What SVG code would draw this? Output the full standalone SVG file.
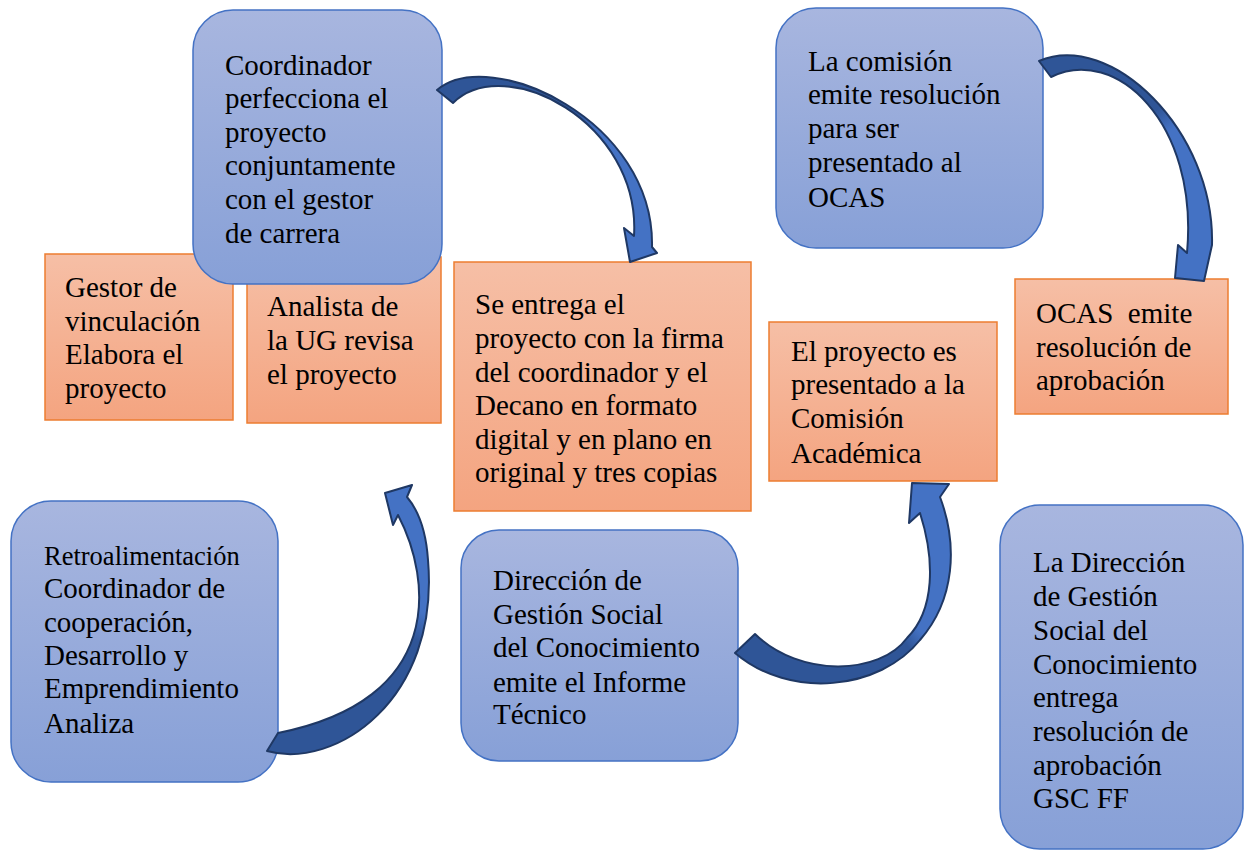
<svg xmlns="http://www.w3.org/2000/svg" width="1245" height="852" viewBox="0 0 1245 852">
<defs>
<linearGradient id="gBlue" x1="0" y1="0" x2="0" y2="1">
<stop offset="0" stop-color="#A8B6DF"/>
<stop offset="1" stop-color="#87A0D7"/>
</linearGradient>
<linearGradient id="gOrange" x1="0" y1="0" x2="0" y2="1">
<stop offset="0" stop-color="#F6BFA6"/>
<stop offset="1" stop-color="#F4A480"/>
</linearGradient>
<linearGradient id="a1" gradientUnits="userSpaceOnUse" x1="445" y1="97" x2="640" y2="255">
<stop offset="0" stop-color="#2F5597"/><stop offset="0.45" stop-color="#2F5597"/><stop offset="0.55" stop-color="#4472C4"/><stop offset="1" stop-color="#4472C4"/>
</linearGradient>
<linearGradient id="a2" gradientUnits="userSpaceOnUse" x1="1045" y1="69" x2="1190" y2="278">
<stop offset="0" stop-color="#2F5597"/><stop offset="0.38" stop-color="#2F5597"/><stop offset="0.48" stop-color="#4472C4"/><stop offset="1" stop-color="#4472C4"/>
</linearGradient>
<linearGradient id="a3" gradientUnits="userSpaceOnUse" x1="272" y1="742" x2="398" y2="490">
<stop offset="0" stop-color="#2F5597"/><stop offset="0.55" stop-color="#2F5597"/><stop offset="0.65" stop-color="#4472C4"/><stop offset="1" stop-color="#4472C4"/>
</linearGradient>
<linearGradient id="a4" gradientUnits="userSpaceOnUse" x1="745" y1="643" x2="930" y2="485">
<stop offset="0" stop-color="#2F5597"/><stop offset="0.5" stop-color="#2F5597"/><stop offset="0.58" stop-color="#4472C4"/><stop offset="1" stop-color="#4472C4"/>
</linearGradient>
<style>
.blue{fill:url(#gBlue);stroke:#4472C4;stroke-width:1.5}
.orange{fill:url(#gOrange);stroke:#ED7D31;stroke-width:1.5}
.t{font-family:"Liberation Serif","Times New Roman",serif;font-size:29px;fill:#000;white-space:pre}
.arrow{stroke:#1F3864;stroke-width:2;stroke-linejoin:round}
</style>
</defs>
<rect width="1245" height="852" fill="#FFFFFF"/>

<g id="gestor">
<rect class="orange" x="45" y="254" width="188" height="166"/>
<text class="t"><tspan x="65" y="297">Gestor de</tspan><tspan x="65" y="331">vinculación</tspan><tspan x="65" y="364">Elabora el</tspan><tspan x="65" y="398">proyecto</tspan></text>
</g>

<g id="analista">
<rect class="orange" x="247" y="257" width="194" height="166"/>
<text class="t"><tspan x="267" y="316">Analista de</tspan><tspan x="267" y="350">la UG revisa</tspan><tspan x="267" y="384">el proyecto</tspan></text>
</g>

<g id="coordinador">
<rect class="blue" x="193" y="10" width="249" height="274" rx="40" ry="40"/>
<text class="t"><tspan x="225" y="75">Coordinador</tspan><tspan x="225" y="108">perfecciona el</tspan><tspan x="225" y="142">proyecto</tspan><tspan x="225" y="175">conjuntamente</tspan><tspan x="225" y="209">con el gestor</tspan><tspan x="225" y="243">de carrera</tspan></text>
</g>

<g id="entrega">
<rect class="orange" x="454" y="262" width="297" height="249"/>
<text class="t"><tspan x="475" y="314">Se entrega el</tspan><tspan x="475" y="348">proyecto con la firma</tspan><tspan x="475" y="382">del coordinador y el</tspan><tspan x="475" y="415">Decano en formato</tspan><tspan x="475" y="449">digital y en plano en</tspan><tspan x="475" y="482">original y tres copias</tspan></text>
</g>

<g id="presentado">
<rect class="orange" x="769" y="322" width="228" height="159"/>
<text class="t"><tspan x="791" y="361">El proyecto es</tspan><tspan x="791" y="394">presentado a la</tspan><tspan x="791" y="428">Comisión</tspan><tspan x="791" y="463">Académica</tspan></text>
</g>

<g id="comision">
<rect class="blue" x="776" y="8" width="267" height="240" rx="40" ry="40"/>
<text class="t"><tspan x="808" y="71">La comisión</tspan><tspan x="808" y="104">emite resolución</tspan><tspan x="808" y="138">para ser</tspan><tspan x="808" y="172">presentado al</tspan><tspan x="808" y="207">OCAS</tspan></text>
</g>

<g id="ocas">
<rect class="orange" x="1015" y="279" width="213" height="135"/>
<text class="t"><tspan x="1036" y="323">OCAS  emite</tspan><tspan x="1036" y="357">resolución de</tspan><tspan x="1036" y="390">aprobación</tspan></text>
</g>

<g id="retro">
<rect class="blue" x="11" y="501" width="267" height="281" rx="40" ry="40"/>
<text class="t"><tspan x="44" y="565" style="font-size:26.5px">Retroalimentación</tspan><tspan x="44" y="598">Coordinador de</tspan><tspan x="44" y="632">cooperación,</tspan><tspan x="44" y="665">Desarrollo y</tspan><tspan x="44" y="698">Emprendimiento</tspan><tspan x="44" y="733">Analiza</tspan></text>
</g>

<g id="direccion">
<rect class="blue" x="461" y="530" width="277" height="231" rx="38" ry="38"/>
<text class="t"><tspan x="493" y="590">Dirección de</tspan><tspan x="493" y="624">Gestión Social</tspan><tspan x="493" y="657">del Conocimiento</tspan><tspan x="493" y="692">emite el Informe</tspan><tspan x="493" y="724">Técnico</tspan></text>
</g>

<g id="ladireccion">
<rect class="blue" x="1000" y="505" width="243" height="344" rx="40" ry="40"/>
<text class="t"><tspan x="1033" y="572">La Dirección</tspan><tspan x="1033" y="606">de Gestión</tspan><tspan x="1033" y="640">Social del</tspan><tspan x="1033" y="674">Conocimiento</tspan><tspan x="1033" y="707">entrega</tspan><tspan x="1033" y="741">resolución de</tspan><tspan x="1033" y="775">aprobación</tspan><tspan x="1033" y="808">GSC FF</tspan></text>
</g>

<g id="connectors">
<path class="arrow" fill="url(#a1)" d="M437,90 C490,45 655,120 652,247 L657,253 L630,262 L624,228 L634,236 C641,122 505,52 453,103 Z"/>
<path class="arrow" fill="url(#a2)" d="M1039,61 C1110,30 1215,130 1212,245 L1204,281 L1175,278 L1178,245 L1187,253 C1199,122 1115,45 1051,77 Z"/>
<path class="arrow" fill="url(#a3)" d="M267,751 C335,770 440,700 428,560 C426,530 418,510 407,497 L412,485 L385,493 L393,525 L398,515 C432,580 445,700 278,733 Z"/>
<path class="arrow" fill="url(#a4)" d="M735,653 C790,700 880,690 920,640 C955,600 958,545 940,497 L949,484 L912,483 L909,523 L920,513 C935,560 935,610 907,638 C880,675 800,678 755,634 Z"/>
</g>
</svg>
